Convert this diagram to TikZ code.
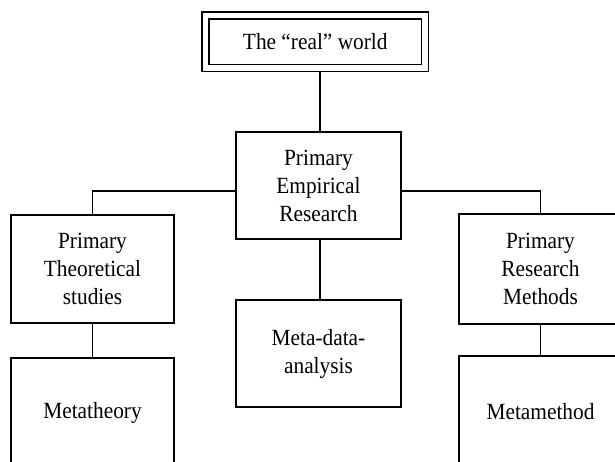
\documentclass[tikz,border=0pt]{standalone}
\usepackage{fontspec}
\setmainfont{Liberation Serif}[FakeStretch=0.92]
\begin{document}
\begin{tikzpicture}[x=1pt,y=-1pt,
  box/.style={draw, line width=1.8pt, inner sep=0pt, align=center,
    font=\fontsize{23.2}{28}\selectfont},
  link/.style={line width=1.8pt}]
\useasboundingbox (0,0) rectangle (615,462);
\clip (0,0) rectangle (615,462);
\coordinate (spine) at (320,0);
\coordinate (bar) at (320,191);
\node[box, double, double distance=5.2pt, outer sep=4.4pt,
  minimum width=219.5pt, minimum height=52.5pt] (real) at (315.25,41.75) {The “real” world};
\node[box, minimum width=165pt, minimum height=107pt] (emp) at (318.5,185.5) {Primary\\Empirical\\Research};
\node[box, minimum width=165pt, minimum height=107pt] (meta) at (318.5,353.5) {Meta-data-\\analysis};
\node[box, minimum width=163pt, minimum height=108pt] (theo) at (92.5,269) {Primary\\Theoretical\\studies};
\node[box, minimum width=163pt, minimum height=110pt] (mtheo) at (92.5,413) {Metatheory};
\node[box, minimum width=163pt, minimum height=110pt] (meth) at (540.5,269) {Primary\\Research\\Methods};
\node[box, minimum width=163pt, minimum height=110pt, text depth=0pt] (mmeth) at (540.5,411) {Metamethod};
\draw[link] (real.south -| spine) -- (emp.north -| spine);
\draw[link] (emp.south -| spine) -- (meta.north -| spine);
\draw[link] (theo.north) |- (bar -| emp.west);
\draw[link] (meth.north) |- (bar -| emp.east);
\draw[link] (theo.south) -- (mtheo.north);
\draw[link] (meth.south) -- (mmeth.north);
\end{tikzpicture}
\end{document}
